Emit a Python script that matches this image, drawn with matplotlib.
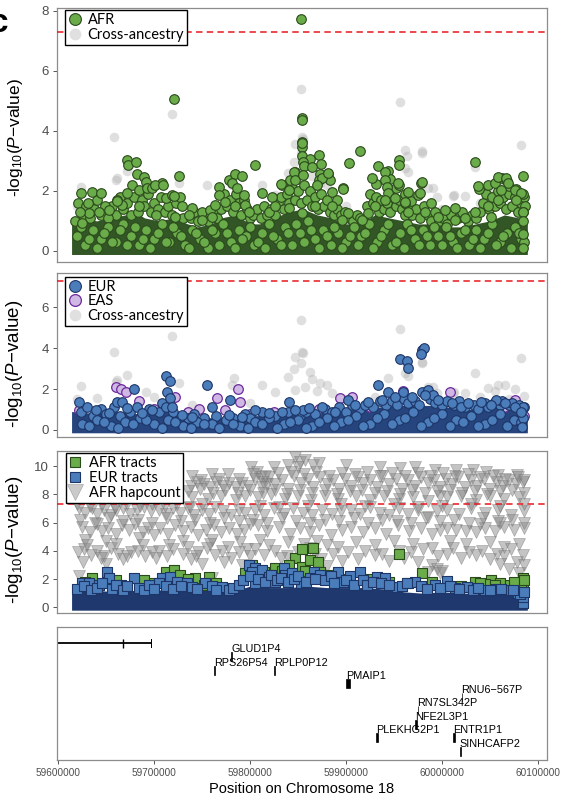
import numpy as np
import matplotlib.pyplot as plt
from matplotlib.lines import Line2D

plt.rcParams['font.family'] = ['Liberation Sans', 'DejaVu Sans']
plt.rcParams['mathtext.fontset'] = 'custom'
plt.rcParams['mathtext.rm'] = 'Liberation Sans'
plt.rcParams['mathtext.it'] = 'Liberation Sans:italic'

# ---- positions in kb on chr18, values are -log10(P) ----
afr_pos = [59720.6, 59853.3, 59854.4, 59854.0, 59854.6, 59854.4, 59853.8, 59862.7, 59872.0, 59855.0,
           59856.5, 59874.0, 59873.0, 59881.0, 59883.0, 59871.5, 59847.3, 59842.1, 59833.5, 59914.6,
           59903.5, 59897.0, 59955.5, 59955.5, 59933.7, 59943.7, 59945.8, 59931.0, 59952.0, 59955.5,
           59962.0, 59968.0, 59978.0, 59975.0, 59962.0, 60034.7, 60038.5, 60048.1, 60055.0, 60063.0,
           60068.0, 60070.0, 60077.0, 60084.4, 60084.4, 60084.4, 60084.4, 60084.4, 59623.6, 59635.7,
           59644.4, 59631.6, 59671.4, 59673.1, 59680.8, 59681.8, 59689.4, 59691.2, 59677.3, 59684.2,
           59692.9, 59698.1, 59708.5, 59725.8, 59672.1, 59712.0, 59718.9, 59727.5, 59729.3, 59739.7,
           59750.1, 59758.7, 59767.4, 59777.8, 59784.7, 59781.2, 59786.4, 59791.6, 59793.4, 59795.1,
           59767.4, 59763.9, 59774.3, 59805.5, 59812.4, 59798.6, 59784.7, 59819.4, 59822.8, 59832.5,
           59840.2, 59845.4, 59847.1, 59854.0, 59864.4, 59855.7, 59874.8, 59881.7, 59869.6, 59885.2,
           59897.3, 59890.4, 59885.2, 59902.5, 59926.8, 59940.6, 59940.6, 59942.4, 59954.5, 59944.1,
           59951.0, 59964.9, 59961.4, 59978.8, 59977.0, 59989.1, 60003.0, 60013.4, 60013.4, 59996.1,
           60037.7, 60058.5, 60067.1, 60068.8, 60061.9, 60075.8, 60082.7, 60077.5, 60084.4, 60084.4,
           60048.1, 60058.5, 60051.5, 60034.2, 60023.8, 59982.2, 59964.9, 59940.6, 59930.2, 59923.3,
           59916.4, 59895.6, 59867.9, 59854.0, 59840.2, 59826.3, 59760.5, 59750.0, 59736.2, 59722.3,
           59701.5, 59684.2, 59666.9, 59661.7, 59653.0, 59642.6, 59632.2, 59622.5, 59625.3, 59700.5,
           59709.2, 59720.6, 59661.7]
afr_logp = [5.07, 7.72, 4.42, 4.37, 3.64, 3.47, 3.18, 3.08, 3.20, 2.95,
            2.83, 2.90, 2.57, 2.57, 2.36, 2.35, 2.63, 2.37, 2.20, 3.34,
            2.92, 2.09, 3.03, 2.87, 2.83, 2.67, 2.41, 2.24, 2.10, 2.20,
            1.90, 1.65, 2.27, 1.88, 1.60, 2.96, 2.08, 2.20, 2.28, 2.44,
            2.33, 2.15, 2.05, 2.51, 1.91, 1.28, 0.56, 0.08, 1.94, 1.98,
            1.92, 1.59, 3.03, 2.85, 2.97, 2.56, 2.48, 2.31, 2.20, 2.03,
            2.09, 2.11, 2.26, 2.51, 1.92, 1.76, 1.87, 1.79, 1.48, 1.42,
            1.31, 1.37, 2.14, 2.37, 2.56, 2.26, 2.09, 2.50, 1.87, 1.53,
            1.87, 1.53, 1.64, 2.87, 1.92, 1.31, 1.48, 1.31, 1.81, 2.22,
            2.03, 2.64, 2.37, 3.59, 2.81, 2.53, 2.42, 2.59, 2.20, 1.98,
            2.06, 1.70, 1.48, 1.26, 2.42, 2.64, 2.37, 2.14, 2.26, 1.92,
            1.76, 1.98, 1.64, 2.31, 1.92, 1.59, 1.37, 1.42, 1.03, 1.14,
            2.18, 2.48, 2.42, 2.26, 2.03, 2.03, 1.92, 1.70, 1.31, 1.00,
            1.48, 1.70, 1.14, 1.31, 1.09, 1.31, 1.31, 1.70, 1.48, 1.26,
            1.03, 1.03, 1.48, 1.26, 1.42, 1.48, 1.14, 1.03, 1.20, 1.14,
            1.20, 1.48, 1.53, 1.70, 1.37, 1.31, 1.26, 1.31, 0.92, 2.20,
            2.20, 1.83, 1.67]

# the crowded band of weakly associated AFR SNPs
afr_dense_pos = [59656, 59660, 59664, 59668, 59672, 59676, 59679, 59683, 59687, 59690, 59694, 59697,
                 59700, 59704, 59707, 59711, 59715, 59719, 59723, 59730,
                 59618, 59621, 59626, 59629, 59633, 59637, 59641, 59645, 59649, 59652,
                 59738, 59742, 59746, 59752, 59756, 59762, 59766, 59770,
                 59773, 59776, 59779, 59782, 59785, 59788, 59791, 59794, 59797, 59800,
                 59803, 59807, 59811, 59815, 59818, 59822, 59826, 59829,
                 59832, 59835, 59838, 59841, 59844, 59847, 59850, 59853, 59856, 59859, 59862, 59865,
                 59868, 59871, 59874, 59877, 59880, 59883,
                 59887, 59891, 59895, 59899, 59903, 59907, 59911, 59915, 59919,
                 59922, 59925, 59928, 59931, 59934, 59937, 59940, 59943, 59946, 59949, 59952, 59955,
                 59958, 59961, 59965,
                 59969, 59973, 59977, 59981, 59985, 59989, 59993, 59997, 60001, 60005, 60009, 60017,
                 60021, 60027, 60031, 60036,
                 60040, 60043, 60046, 60049, 60052, 60055, 60058, 60061, 60064, 60067, 60070, 60073,
                 60076, 60079, 60082, 60085, 60087,
                 59620, 59628, 59636, 59645, 59652, 59660, 59668, 59676, 59684, 59692, 59700, 59708,
                 59716, 59724, 59732, 59740, 59748, 59756, 59764, 59772, 59780, 59788, 59796, 59804,
                 59812, 59820, 59828, 59836, 59844, 59852, 59860, 59868, 59876, 59884, 59892, 59900,
                 59908, 59916, 59924, 59932, 59940, 59948, 59956, 59964, 59972, 59980, 59988, 59996,
                 60004, 60012, 60020, 60028, 60036, 60044, 60052, 60060, 60068, 60076, 60082,
                 59624, 59632, 59640, 59648, 59656, 59664, 59672, 59680, 59688, 59696, 59704, 59712,
                 59720, 59728, 59736, 59744, 59752, 59760, 59768, 59776, 59784, 59792, 59800, 59808,
                 59816, 59824, 59832, 59840, 59848, 59856, 59864, 59872, 59880, 59888, 59896, 59904,
                 59912, 59920, 59928, 59936, 59944, 59952, 59960, 59968, 59976, 59984, 59992, 60000,
                 60008, 60016, 60024, 60032, 60040, 60048, 60056, 60064, 60072, 60080, 60086]
afr_dense_logp = [1.5, 1.2, 1.8, 1.4, 1.6, 1.2, 1.8, 1.3, 1.7, 1.5, 1.9, 1.3,
                  1.6, 1.4, 1.8, 1.3, 1.5, 1.2, 1.6, 1.1,
                  1.0, 1.6, 1.2, 1.5, 1.1, 1.4, 1.7, 1.2, 1.5, 1.1,
                  1.1, 1.3, 1.0, 1.2, 1.0, 1.3, 1.1, 1.4,
                  1.9, 1.5, 1.7, 1.3, 1.9, 1.6, 1.2, 1.7, 1.4, 1.1,
                  1.2, 1.4, 1.1, 1.5, 1.2, 1.4, 1.2, 1.6,
                  1.8, 1.4, 1.9, 1.6, 2.1, 1.7, 2.0, 1.6, 2.2, 1.7, 2.0, 1.5,
                  1.8, 1.4, 1.9, 1.5, 1.7, 1.3,
                  1.2, 1.4, 1.2, 1.3, 1.1, 1.0, 1.2, 1.1, 1.0,
                  1.5, 1.9, 1.6, 1.8, 1.3, 1.7, 1.4, 1.6, 1.3, 1.8, 1.5, 1.7,
                  1.4, 1.2, 1.5,
                  1.2, 1.4, 1.1, 1.5, 1.2, 1.0, 1.3, 1.0, 1.1, 0.9, 1.2, 1.1,
                  1.3, 1.0, 1.2, 1.1,
                  1.3, 1.6, 1.9, 1.4, 1.8, 1.5, 2.0, 1.6, 1.8, 1.4, 1.9, 1.5,
                  1.8, 1.3, 1.6, 1.8, 1.5,
                  0.5, 0.2, 0.7, 0.4, 0.8, 0.3, 0.9, 0.5, 0.2, 0.7, 0.4, 0.9,
                  0.3, 0.6, 0.2, 0.7, 0.4, 0.1, 0.6, 0.9, 0.3, 0.7, 0.5, 0.2,
                  0.6, 0.9, 0.4, 0.8, 0.2, 0.6, 1.0, 0.4, 0.7, 0.2, 0.6, 0.3,
                  0.8, 0.5, 0.9, 0.3, 0.7, 0.2, 0.6, 0.9, 0.4, 0.7, 0.2, 0.5,
                  0.8, 0.3, 0.6, 0.2, 0.7, 0.4, 0.9, 0.3, 0.6, 0.8, 0.4,
                  0.8, 0.4, 0.1, 0.6, 0.3, 0.7, 0.2, 0.8, 0.4, 0.1, 0.6, 0.3,
                  0.8, 0.5, 0.1, 0.6, 0.3, 0.7, 0.2, 0.6, 0.1, 0.4, 0.8, 0.3,
                  0.1, 0.5, 0.2, 0.6, 0.9, 0.3, 0.7, 0.1, 0.5, 0.8, 0.1, 0.5,
                  0.2, 0.6, 0.1, 0.5, 0.9, 0.3, 0.1, 0.7, 0.2, 0.5, 0.8, 0.2,
                  0.5, 0.1, 0.7, 0.4, 0.1, 0.6, 0.2, 0.5, 0.1, 0.6, 0.3]

cross_pos = [59718.9, 59658.2, 59661.0, 59623.6, 59755.3, 59812.4, 59853.3, 59956.2, 60082.8, 59853.8,
             59847.1, 59855.7, 59853.3, 59845.4, 59862.7, 59873.1, 59857.4, 59847.1, 59885.2, 59962.0,
             59963.1, 59978.8, 59978.8, 59964.9, 59961.4, 59944.1, 59985.7, 59990.9, 60011.6, 60023.8,
             60013.0, 60034.2, 60048.1, 60058.5, 60065.4, 60075.8, 60086.0, 59671.4, 59660.0, 59725.8,
             59640.9, 59691.2, 59783.0, 59781.2, 59826.3, 59700.0, 59620.0, 59740.0, 59800.0, 59900.0,
             59930.0, 60000.0, 60040.0, 60070.0, 59870.0, 59865.0, 59880.0, 59840.0, 59995.0, 60055.0]
cross_logp = [4.57, 3.81, 2.44, 2.14, 2.20, 2.20, 5.40, 4.95, 3.53, 3.81,
              3.55, 3.74, 3.25, 2.96, 2.85, 2.28, 2.11, 1.95, 1.79, 3.36,
              3.18, 3.32, 3.25, 2.64, 2.76, 2.52, 2.09, 2.11, 1.83, 1.83,
              1.87, 2.80, 2.03, 2.20, 2.20, 2.00, 1.64, 2.68, 2.36, 2.28,
              1.54, 1.87, 2.52, 2.20, 1.87, 1.60, 1.50, 1.20, 1.30, 1.50,
              1.60, 1.40, 1.60, 1.50, 1.90, 2.50, 2.20, 2.60, 1.80, 1.90]

eur_pos = [59621.9, 59711.9, 59716.4, 59713.7, 59717.1, 59679.0, 59755.3, 59661.7, 59666.9, 59778.8,
           59760.5, 59840.2, 59855.7, 59902.5, 59933.7, 59944.1, 59956.2, 59963.1, 59964.9, 59978.8,
           59981.5, 59978.1, 59959.7, 59978.8, 59985.7, 59990.9, 60020.3, 60056.7, 60084.4, 60084.4,
           60083.0, 59639.2, 59653.0, 59672.1, 59687.7, 59698.0, 59718.9, 59729.3, 59739.7, 59777.8,
           59791.6, 59805.5, 59819.4, 59833.2, 59847.1, 59861.0, 59874.8, 59888.7, 59909.5, 59923.3,
           59937.2, 59951.0, 59968.4, 59982.2, 59996.1, 60010.0, 60027.3, 60041.1, 60051.5, 60065.4,
           60075.8, 60082.7]
eur_logp = [1.38, 2.63, 2.39, 1.87, 1.54, 1.98, 2.20, 1.38, 1.38, 1.46,
            1.14, 1.38, 0.98, 1.46, 2.20, 1.87, 3.45, 3.37, 3.01, 3.93,
            4.03, 3.71, 1.87, 1.87, 1.95, 1.71, 1.14, 1.46, 1.14, 0.57,
            0.16, 0.98, 0.81, 1.06, 0.81, 0.98, 1.14, 0.73, 0.65, 0.73,
            0.65, 0.98, 0.81, 0.89, 0.98, 1.06, 1.14, 0.89, 1.22, 1.38,
            1.46, 1.63, 1.63, 1.71, 1.46, 1.30, 1.30, 1.38, 1.22, 1.30,
            1.14, 0.89]

eur_dense_pos = [59624, 59630, 59636, 59645, 59650, 59658, 59664, 59675, 59682, 59690, 59695, 59705,
                 59708, 59712, 59720, 59735, 59742, 59752, 59765, 59782, 59795, 59800, 59812, 59826,
                 59840, 59852, 59858, 59868, 59878, 59885, 59893, 59900, 59906, 59915, 59920, 59928,
                 59935, 59942, 59948, 59953, 59960, 59965, 59972, 59976, 59988, 59993, 60000, 60005,
                 60013, 60018, 60024, 60033, 60038, 60045, 60048, 60054, 60060, 60063, 60070, 60073,
                 60080, 60086,
                 59625, 59640, 59655, 59670, 59685, 59700, 59715, 59730, 59745, 59760, 59775, 59790,
                 59805, 59820, 59835, 59850, 59865, 59880, 59895, 59910, 59925, 59940, 59955, 59970,
                 59985, 60000, 60015, 60030, 60045, 60060, 60075,
                 59632, 59648, 59662, 59678, 59692, 59708, 59722, 59738, 59752, 59768, 59782, 59798,
                 59812, 59828, 59842, 59858, 59872, 59888, 59902, 59918, 59932, 59948, 59962, 59978,
                 59992, 60008, 60022, 60038, 60052, 60068, 60082]
eur_dense_logp = [0.9, 1.1, 0.7, 1.0, 0.8, 1.1, 0.7, 0.9, 1.1, 0.8, 1.0, 0.9,
                  1.3, 1.1, 0.9, 0.6, 0.8, 0.6, 0.7, 0.6, 0.8, 0.6, 0.9, 0.7,
                  0.9, 0.7, 0.9, 0.8, 1.0, 0.9, 1.1, 0.9, 1.2, 1.0, 1.2, 1.1,
                  1.4, 1.2, 1.4, 1.2, 1.5, 1.3, 1.4, 1.2, 1.5, 1.3, 1.2, 1.4,
                  1.2, 1.4, 1.1, 1.2, 1.0, 1.3, 1.1, 1.3, 1.2, 1.4, 1.2, 1.3,
                  1.2, 1.1,
                  0.3, 0.5, 0.2, 0.4, 0.6, 0.3, 0.5, 0.2, 0.4, 0.3, 0.5, 0.2,
                  0.4, 0.6, 0.3, 0.5, 0.2, 0.6, 0.4, 0.7, 0.3, 0.8, 0.5, 0.9,
                  0.4, 0.8, 0.5, 0.7, 0.3, 0.8, 0.5,
                  0.2, 0.4, 0.1, 0.3, 0.5, 0.1, 0.4, 0.1, 0.3, 0.1, 0.3, 0.1,
                  0.3, 0.1, 0.4, 0.1, 0.4, 0.2, 0.5, 0.2, 0.6, 0.3, 0.6, 0.2,
                  0.6, 0.2, 0.4, 0.2, 0.5, 0.2, 0.4]

eas_pos = [59621.9, 59660.0, 59665.2, 59670.4, 59684.2, 59722.3, 59746.6, 59765.7, 59787.5, 59789.9,
           59893.9, 59959.7, 60008.2, 60075.8, 59774.3, 59906.0, 59954.5,
           59700, 59735, 59800, 59825, 59872, 59925, 59995, 60040, 60065, 60085]
eas_logp = [0.98, 2.11, 1.98, 1.87, 1.41, 1.59, 1.00, 1.54, 2.00, 1.38,
            1.54, 1.90, 1.87, 1.46, 0.98, 1.63, 1.46,
            1.0, 0.9, 0.8, 0.9, 1.0, 1.1, 1.3, 1.2, 1.1, 0.7]

eur_tract_pos = [59625.3, 59651.3, 59653.0, 59679.0, 59632.2, 59642.6, 59665.2, 59708.5, 59717.1, 59705.0,
                 59724.1, 59734.5, 59739.7, 59753.5, 59770.9, 59777.8, 59798.6, 59805.5, 59802.0, 59812.4,
                 59819.4, 59834.9, 59836.7, 59843.6, 59853.0, 59805.5, 59826.3, 59866.2, 59873.1, 59862.7,
                 59892.1, 59904.3, 59914.7, 59897.3, 59932.0, 59940.7, 59952.8, 59971.8, 59992.6, 60004.8,
                 60013.4, 60025.6, 60044.6, 60056.7, 60068.9, 60079.3, 60084.5, 60084.5, 60081.0,
                 59620, 59627, 59634, 59640, 59646, 59656, 59660, 59668, 59672, 59684, 59690, 59695,
                 59700, 59712, 59720, 59728, 59745, 59760, 59765, 59782, 59788, 59793, 59800, 59808,
                 59816, 59822, 59828, 59832, 59840, 59846, 59850, 59858, 59868, 59878, 59884, 59888,
                 59900, 59908, 59918, 59922, 59928, 59936, 59945, 59958, 59964, 59978, 59984, 59998,
                 60008, 60018, 60032, 60038, 60050, 60062, 60074, 60086]
eur_tract_logp = [1.70, 2.52, 2.05, 2.05, 1.70, 1.58, 1.58, 2.05, 2.17, 1.70,
                  1.81, 1.70, 1.46, 1.70, 1.46, 1.22, 2.99, 2.76, 2.52, 2.64,
                  2.17, 2.76, 2.29, 2.40, 1.70, 1.70, 1.81, 2.52, 2.29, 2.05,
                  2.52, 2.21, 2.52, 1.81, 2.17, 2.05, 1.46, 1.77, 1.58, 1.88,
                  1.40, 1.46, 1.22, 1.27, 1.22, 1.04, 0.28, 0.75, 0.95,
                  1.3, 1.5, 1.2, 1.4, 1.7, 1.3, 1.6, 1.2, 1.5, 1.4, 1.2, 1.6,
                  1.3, 1.5, 1.3, 1.5, 1.3, 1.5, 1.2, 1.4, 1.6, 1.9, 2.2, 2.0,
                  1.8, 2.3, 1.9, 2.1, 1.8, 2.0, 2.2, 1.8, 2.0, 1.9, 2.2, 1.7,
                  1.9, 1.6, 1.9, 1.6, 1.8, 1.7, 1.6, 1.5, 1.7, 1.5, 1.3, 1.4,
                  1.5, 1.3, 1.2, 1.4, 1.2, 1.3, 1.2, 1.1]

afr_tract_pos = [59635.7, 59642.6, 59698.1, 59712.0, 59720.6, 59727.5, 59743.1, 59757.0, 59751.8, 59802.0,
                 59814.2, 59826.3, 59847.1, 59840.2, 59854.0, 59854.0, 59865.1, 59862.7, 59871.3, 59873.1,
                 59880.0, 59955.2, 59978.8, 59989.2, 60034.2, 60051.5, 60045.0, 60060.2, 60070.6, 60084.5,
                 60084.5, 60082.0,
                 59628, 59660, 59690, 59735, 59765, 59795, 59808, 59820, 59833, 59857, 59885, 59895,
                 59925, 59945, 59965, 60020, 60040, 60055, 60075, 60086]
afr_tract_logp = [2.05, 1.58, 1.70, 2.52, 2.64, 2.29, 2.05, 2.17, 1.58, 2.99,
                  2.52, 2.76, 3.46, 2.99, 2.88, 4.15, 4.17, 3.35, 3.23, 2.52,
                  2.30, 3.77, 2.40, 1.81, 1.81, 1.93, 1.65, 1.70, 1.58, 2.05,
                  1.58, 1.30,
                  1.8, 1.9, 1.9, 2.0, 1.7, 2.4, 2.6, 2.3, 2.6, 2.6, 2.0, 2.0,
                  2.0, 1.8, 1.7, 1.5, 1.7, 1.6, 1.8, 1.9]

hap_pos = [59622, 59628, 59635, 59640, 59648, 59655, 59660, 59668, 59675, 59682, 59690, 59697,
           59625, 59633, 59640, 59646, 59652, 59660, 59667, 59674, 59680, 59688, 59694, 59700,
           59628, 59650, 59684,
           59621, 59627, 59634, 59640, 59648, 59655, 59662, 59668, 59676, 59683, 59691, 59698, 59626, 59650,
           59622,
           59738, 59745, 59752, 59758, 59765, 59772, 59778, 59785, 59792, 59798,
           59740, 59756, 59770, 59785, 59795,
           59801, 59807, 59811, 59813, 59818,
           59705, 59712, 59720, 59727, 59735, 59742, 59750, 59757, 59764, 59772, 59780, 59788, 59795,
           59706, 59714, 59722, 59730, 59738, 59746, 59754, 59762, 59770, 59778, 59786, 59794, 59800,
           59730, 59760, 59790,
           59705, 59713, 59720, 59730, 59738, 59746, 59755, 59763, 59771, 59780, 59788, 59797, 59750, 59773, 59792,
           59760,
           59847, 59852, 59850, 59857, 59866, 59872, 59900, 59840, 59825,
           59805, 59812, 59820, 59826, 59833, 59840, 59846, 59853, 59860, 59866, 59873, 59880, 59886, 59893, 59899,
           59808, 59822, 59836, 59850, 59864, 59878, 59892,
           59805, 59815, 59825, 59835, 59845, 59855, 59865, 59875, 59885, 59895,
           59808, 59818, 59830, 59842, 59852, 59862, 59872, 59884, 59896,
           59810, 59840, 59870, 59892,
           59805, 59815, 59826, 59838, 59850, 59862, 59874, 59886, 59896, 59880,
           59935, 59956, 59972, 59993,
           59905, 59912, 59918, 59925, 59932, 59938, 59945, 59952, 59958, 59965, 59972, 59978, 59985, 59992, 59998,
           59910, 59925, 59940, 59955, 59970, 59985, 59998,
           59905, 59915, 59925, 59935, 59945, 59955, 59965, 59975, 59985, 59995,
           59905, 59918, 59930, 59942, 59954, 59966, 59978, 59990, 59998,
           59910, 59930, 59950, 59970, 59990,
           59912, 59930, 59945, 59960, 59975, 59990, 59995, 59985, 59998,
           60015, 60032, 60046, 60058, 60078,
           60004, 60010, 60017, 60024, 60030, 60037, 60044, 60050, 60057, 60064, 60070, 60077, 60084,
           60005, 60020, 60035, 60050, 60065, 60080,
           60005, 60018, 60030, 60045, 60058, 60072, 60085,
           60005, 60015, 60025, 60035, 60045, 60055, 60065, 60075, 60085, 60040, 60060,
           60008, 60025, 60050, 60065, 60080,
           60005, 60020, 60035, 60050, 60065, 60078, 60060, 60085,
           60070, 60080, 60000,
           59740, 59749, 59760, 59768, 59777, 59789, 59803, 59816, 59829, 59843, 59856, 59869, 59882,
           59896, 59909, 59922, 59935, 59948, 59961, 59975, 59988, 60001, 60014, 60027, 60040, 60053,
           60066, 60079, 60086,
           59735, 59748, 59761, 59774, 59787, 59800, 59813, 59826, 59839, 59852, 59865, 59878, 59891,
           59904, 59917, 59930, 59943, 59956, 59969, 59982, 59995, 60008, 60021, 60034, 60047, 60060,
           60073, 60086,
           59620, 59633, 59646, 59659, 59672, 59685, 59698, 59711, 59724, 59737, 59750, 59810, 59830,
           59860, 59895, 59920, 59950, 59975, 60000, 60030, 60060, 60085,
           59623, 59638, 59653, 59668, 59683, 59698, 59713, 59728, 59743, 59758, 59773, 59788, 59803,
           59818, 59833, 59848, 59863, 59878, 59893, 59908, 59923, 59938, 59953, 59968, 59983, 59998,
           60013, 60028, 60043, 60058, 60073, 60086,
           59630, 59645, 59660, 59672, 59688, 59702, 59716, 59735, 59744, 59758, 59777, 59800, 59820,
           59832, 59856, 59868, 59880, 59902, 59920, 59938, 59955, 59968, 59980, 59996, 60012, 60028,
           60042, 60057, 60072, 60084]
hap_logp = [7.0, 6.7, 7.0, 6.6, 6.9, 6.5, 6.9, 7.0, 6.6, 6.9, 7.1, 6.8,
            5.7, 5.3, 5.9, 5.4, 5.6, 5.2, 5.8, 5.5, 5.9, 5.3, 5.6, 5.1,
            4.8, 4.7, 4.9,
            3.9, 4.1, 3.7, 4.0, 3.6, 4.2, 3.8, 3.4, 3.9, 4.0, 3.6, 3.9, 3.2, 3.1,
            2.2,
            8.6, 8.9, 8.7, 8.5, 8.9, 8.6, 8.8, 8.5, 8.8, 8.6,
            7.8, 7.7, 7.9, 7.6, 7.9,
            9.95, 9.6, 9.23, 8.9, 8.75,
            6.9, 6.6, 7.0, 6.7, 7.0, 6.5, 6.9, 6.6, 7.1, 6.8, 6.5, 6.9, 6.7,
            5.6, 5.2, 5.8, 5.4, 5.7, 5.1, 5.5, 5.8, 5.3, 5.6, 5.2, 5.5, 5.9,
            4.7, 4.8, 4.6,
            4.0, 3.6, 4.1, 3.8, 3.4, 3.9, 4.2, 3.7, 4.0, 3.5, 3.9, 4.1, 3.1, 3.2, 3.0,
            2.05,
            10.66, 10.3, 9.95, 10.42, 10.07, 10.2, 10.07, 10.1, 9.9,
            9.1, 8.5, 9.2, 8.7, 9.0, 8.4, 9.3, 8.8, 9.1, 8.5, 9.2, 8.7, 9.0, 8.4, 9.1,
            7.8, 8.0, 7.7, 7.9, 7.6, 7.9, 7.7,
            6.9, 6.5, 7.0, 6.6, 7.0, 6.7, 6.5, 6.9, 6.6, 6.8,
            5.8, 5.4, 5.7, 5.2, 5.6, 5.3, 5.8, 5.1, 5.5,
            4.8, 4.6, 4.7, 4.3,
            4.1, 3.7, 4.0, 3.6, 3.9, 4.2, 3.4, 3.8, 3.3, 2.9,
            9.95, 9.83, 9.95, 9.72,
            8.6, 9.2, 8.8, 9.0, 8.5, 9.3, 8.7, 9.1, 8.4, 9.0, 8.6, 9.2, 8.8, 9.0, 8.5,
            7.9, 7.6, 7.9, 7.7, 7.8, 7.5, 7.9,
            6.9, 6.6, 7.1, 6.7, 6.5, 7.0, 6.6, 6.9, 6.4, 6.8,
            5.7, 5.3, 5.6, 5.2, 5.8, 5.4, 5.6, 5.2, 5.5,
            4.6, 4.4, 4.7, 4.5, 4.2,
            3.4, 3.7, 3.3, 3.5, 3.2, 3.0, 2.7, 2.5, 2.4,
            9.72, 9.72, 9.6, 9.36, 9.36,
            9.1, 8.7, 9.2, 8.5, 9.0, 8.6, 9.1, 8.4, 8.9, 8.6, 9.0, 8.7, 8.9,
            7.8, 7.9, 7.6, 7.9, 7.7, 7.8,
            6.9, 6.6, 7.0, 6.7, 6.9, 6.5, 6.8,
            5.6, 5.5, 5.4, 5.3, 5.6, 5.4, 5.7, 5.5, 5.6, 5.9, 6.0,
            4.7, 4.5, 4.6, 4.3, 4.5,
            3.8, 3.5, 3.7, 3.4, 3.6, 3.2, 3.1, 3.0,
            2.7, 2.4, 2.6,
            9.3, 9.0, 9.4, 9.1, 9.4, 9.1, 9.4, 9.3, 9.5, 9.6, 9.4, 9.6, 9.3,
            9.5, 9.4, 9.6, 9.3, 9.5, 9.3, 9.5, 9.3, 9.5, 9.3, 9.4, 9.2, 9.3,
            9.1, 9.2, 9.0,
            8.2, 8.4, 8.1, 8.3, 8.1, 8.3, 8.1, 8.3, 8.0, 8.3, 8.1, 8.3, 8.0,
            8.2, 8.3, 8.1, 8.2, 8.0, 8.3, 8.1, 8.2, 8.3, 8.1, 8.2, 8.0, 8.2,
            8.3, 8.1,
            7.3, 7.2, 7.3, 7.1, 7.3, 7.2, 7.3, 7.2, 7.3, 7.1, 7.3, 7.2, 7.1,
            7.2, 7.3, 7.2, 7.3, 7.1, 7.2, 7.3, 7.2, 7.3,
            6.2, 6.0, 6.3, 6.1, 6.2, 6.0, 6.3, 6.1, 6.2, 6.0, 6.3, 6.1, 6.2,
            6.0, 6.3, 6.1, 6.0, 6.2, 6.1, 6.3, 6.0, 6.2, 6.1, 6.0, 6.3, 6.1,
            6.2, 6.0, 6.3, 6.1, 6.2, 6.0,
            4.4, 3.5, 4.5, 3.6, 4.4, 3.5, 4.4, 4.3, 3.6, 4.5, 4.3, 3.6, 4.4,
            3.5, 4.5, 3.8, 4.4, 3.9, 4.0, 3.8, 4.0, 3.9, 4.1, 3.6, 4.2, 3.9,
            4.0, 3.8, 4.1, 3.7]

# upper edge of the solidly packed low-signal SNPs in each panel
afr_core_pos = [59614, 59625, 59640, 59655, 59670, 59680, 59690, 59705, 59720, 59735, 59745, 59760,
                59770, 59785, 59800, 59810, 59825, 59840, 59855, 59870, 59885, 59900, 59915, 59930,
                59945, 59960, 59975, 59990, 60005, 60020, 60035, 60050, 60065, 60080, 60089]
afr_core_top = [0.9, 1.1, 1.0, 1.1, 1.2, 1.3, 1.1, 1.0, 1.1, 0.9, 0.8, 0.9,
                1.1, 1.2, 0.9, 0.9, 1.1, 1.3, 1.4, 1.2, 1.1, 0.9, 0.9, 1.2,
                1.1, 1.0, 0.9, 0.9, 0.8, 0.8, 0.9, 1.0, 1.2, 1.1, 0.9]
eur_core_pos = [59614, 59640, 59660, 59680, 59700, 59715, 59730, 59750, 59770, 59790, 59810, 59830,
                59850, 59870, 59890, 59910, 59930, 59950, 59970, 59990, 60010, 60030, 60050, 60070, 60089]
eur_core_top = [0.9, 0.8, 0.9, 0.8, 0.8, 1.1, 0.8, 0.6, 0.6, 0.7, 0.7, 0.8,
                0.8, 0.8, 0.9, 1.0, 1.1, 1.2, 1.2, 1.2, 1.1, 1.0, 1.1, 1.1, 1.0]
tract_core_pos = [59614, 59640, 59660, 59680, 59700, 59720, 59740, 59760, 59780, 59800, 59820, 59840,
                  59860, 59880, 59900, 59920, 59940, 59960, 59980, 60000, 60020, 60040, 60060, 60080, 60089]
tract_core_top = [1.1, 1.2, 1.1, 1.2, 1.2, 1.3, 1.2, 1.2, 1.1, 1.5, 1.4, 1.4,
                  1.5, 1.4, 1.4, 1.4, 1.3, 1.1, 1.0, 1.1, 1.0, 1.0, 1.0, 1.0, 0.9]

# gene track
gene_names = ['GLUD1P4', 'RPS26P54', 'RPLP0P12', 'PMAIP1', 'RNU6\u2212567P', 'RN7SL342P',
              'NFE2L3P1', 'PLEKHG2P1', 'ENTR1P1', 'SINHCAFP2']
gene_start = [59780.2, 59762.6, 59825.3, 59900.0, 60020.4, 59974.6, 59971.8, 59931.0, 60011.7, 60018.6]
gene_end = [59781.0, 59763.6, 59826.5, 59904.3, 60020.9, 59975.1, 59973.6, 59932.9, 60013.3, 60019.6]
gene_row = [1, 2, 2, 3, 4, 5, 6, 7, 7, 8]
long_gene_start, long_gene_end = 59540.0, 59698.1
long_gene_marks = [59667.6]

XLIM = (59598.5e3, 60109.5e3)
SIG = -np.log10(5e-8)

C_AFR, E_AFR = '#6aab4a', '#2b4a1c'
C_EUR, E_EUR = '#4b7dbb', '#1d3567'
C_EAS, E_EAS = '#cfb8e3', '#6c2a9c'
C_CROSS = '#b0b0b0'

kb = lambda v: np.asarray(v) * 1000.0

fig = plt.figure(figsize=(5.63, 7.97), dpi=100)
L, W = 0.1007, 0.8709
ax1 = fig.add_axes([L, 0.6713, W, 0.3183])
ax2 = fig.add_axes([L, 0.4521, W, 0.2050])
ax3 = fig.add_axes([L, 0.2305, W, 0.2036])
ax4 = fig.add_axes([L, 0.0464, W, 0.1665])

ylab = '-log$_{10}$($\\it{P}$\u2212value)'


def style_panel(ax, ylim, yticks, lab_y, lab_size):
    ax.set_xlim(XLIM)
    ax.set_ylim(ylim)
    ax.set_yticks(yticks)
    ax.set_xticks([])
    ax.tick_params(axis='y', length=3, width=0.7, color='#555555', labelsize=9.5,
                   labelcolor='#4d4d4d', pad=2.5)
    for s in ax.spines.values():
        s.set_color('#8c8c8c')
        s.set_linewidth(0.9)
    ax.axhline(SIG, color='#e8161c', lw=1.1, ls=(0, (4.2, 2.8)), zorder=6)
    ax.set_ylabel(ylab, fontsize=lab_size)
    ax.yaxis.set_label_coords(-0.064, lab_y)


def add_legend(ax, handles, anchor):
    leg = ax.legend(handles=handles, loc='upper left', bbox_to_anchor=anchor, borderaxespad=0,
                    frameon=True, fancybox=False, framealpha=1, edgecolor='black',
                    borderpad=0.2, labelspacing=0.05, handlelength=0.9, handletextpad=0.45,
                    prop={'family': 'Lato', 'size': 10.5})
    leg.get_frame().set_linewidth(1.0)
    leg.set_zorder(10)


def circles(ax, pos, logp, face, edge, lw, z):
    ax.scatter(kb(pos), logp, s=48, c=face, edgecolors=edge, linewidths=lw, zorder=z)


# --- AFR panel ---
ax1.scatter(kb(cross_pos), cross_logp, s=48, c=C_CROSS, alpha=0.4, lw=0, zorder=2)
ax1.fill_between(kb(afr_core_pos), -0.12, afr_core_top, color='#335626', lw=0, zorder=3)
circles(ax1, afr_dense_pos, afr_dense_logp, C_AFR, E_AFR, 0.8, 4)
circles(ax1, afr_pos, afr_logp, C_AFR, E_AFR, 0.8, 5)
style_panel(ax1, (-0.37, 8.09), [0, 2, 4, 6, 8], 0.49, 12.5)
add_legend(ax1, [Line2D([], [], ls='', marker='o', ms=8.5, mfc=C_AFR, mec=E_AFR, mew=0.8, label='AFR'),
                 Line2D([], [], ls='', marker='o', ms=8.5, mfc='#e0e0e0', mec='none', label='Cross-ancestry')],
           (0.017, 0.993))

# --- EUR / EAS panel ---
ax2.scatter(kb(cross_pos), cross_logp, s=48, c=C_CROSS, alpha=0.4, lw=0, zorder=2)
ax2.fill_between(kb(eur_core_pos), -0.14, eur_core_top, color='#26447d', lw=0, zorder=3)
circles(ax2, eas_pos, eas_logp, C_EAS, E_EAS, 0.9, 4)
circles(ax2, eur_dense_pos, eur_dense_logp, C_EUR, E_EUR, 0.8, 5)
circles(ax2, eur_pos, eur_logp, C_EUR, E_EUR, 0.8, 6)
style_panel(ax2, (-0.33, 7.66), [0, 2, 4, 6], 0.445, 13.5)
add_legend(ax2, [Line2D([], [], ls='', marker='o', ms=8.5, mfc=C_EUR, mec=E_EUR, mew=0.8, label='EUR'),
                 Line2D([], [], ls='', marker='o', ms=8.5, mfc=C_EAS, mec=E_EAS, mew=0.9, label='EAS'),
                 Line2D([], [], ls='', marker='o', ms=8.5, mfc='#e0e0e0', mec='none', label='Cross-ancestry')],
           (0.017, 0.979))

# --- local ancestry panel ---
ax3.scatter(kb(hap_pos), hap_logp, s=74, marker='v', c='#8a8a8a', alpha=0.5,
            edgecolors='#6a6a6a', linewidths=0.5, zorder=2)
ax3.fill_between(kb(tract_core_pos), -0.2, tract_core_top, color='#1f386e', lw=0, zorder=3)
ax3.scatter(kb(afr_tract_pos), afr_tract_logp, s=44, marker='s', c=C_AFR, edgecolors=E_AFR,
            linewidths=0.8, zorder=4)
ax3.scatter(kb(eur_tract_pos), eur_tract_logp, s=44, marker='s', c=C_EUR, edgecolors=E_EUR,
            linewidths=0.8, zorder=5)
style_panel(ax3, (-0.42, 11.06), [0, 2, 4, 6, 8, 10], 0.45, 13.5)
add_legend(ax3, [Line2D([], [], ls='', marker='s', ms=7.5, mfc=C_AFR, mec=E_AFR, mew=0.8, label='AFR tracts'),
                 Line2D([], [], ls='', marker='s', ms=7.5, mfc=C_EUR, mec=E_EUR, mew=0.8, label='EUR tracts'),
                 Line2D([], [], ls='', marker='v', ms=11, mfc='#cacaca', mec='#aaaaaa', mew=0.5,
                        label='AFR hapcount')],
           (0.019, 0.986))

# --- gene track ---
ax4.set_xlim(XLIM)
ax4.set_ylim(8.64, -1.19)
ax4.plot(kb([long_gene_start, long_gene_end]), [0, 0], color='black', lw=1.3, solid_capstyle='butt')
ax4.vlines(kb(long_gene_marks), -0.33, 0.33, color='black', lw=1.0)
ax4.bar(kb([long_gene_end - 1.5]), 0.66, width=1500, bottom=-0.33, align='edge', color='black', lw=0)
for name, g0, g1, row in zip(gene_names, gene_start, gene_end, gene_row):
    ax4.bar(g0 * 1000, 0.66, width=(g1 - g0) * 1000, bottom=row - 0.33, align='edge',
            color='black', edgecolor='black', lw=0.5)
    ax4.text(g0 * 1000, row - 0.36, name, ha='left', va='baseline', fontsize=7.8, color='black')
ax4.set_yticks([])
xt = [59600000, 59700000, 59800000, 59900000, 60000000, 60100000]
ax4.set_xticks(xt)
ax4.set_xticklabels([str(v) for v in xt])
ax4.tick_params(axis='x', length=3, width=0.7, color='#555555', labelsize=7.2,
                labelcolor='#4d4d4d', pad=2.5)
for s in ax4.spines.values():
    s.set_color('#8c8c8c')
    s.set_linewidth(0.9)
ax4.set_xlabel('Position on Chromosome 18', fontsize=10.5, labelpad=3)

# panel letter, clipped by the left edge
fig.text(-0.018, 0.99, 'c', fontsize=24, fontweight='bold', ha='left', va='top')

fig.savefig('out.png', dpi=100)
